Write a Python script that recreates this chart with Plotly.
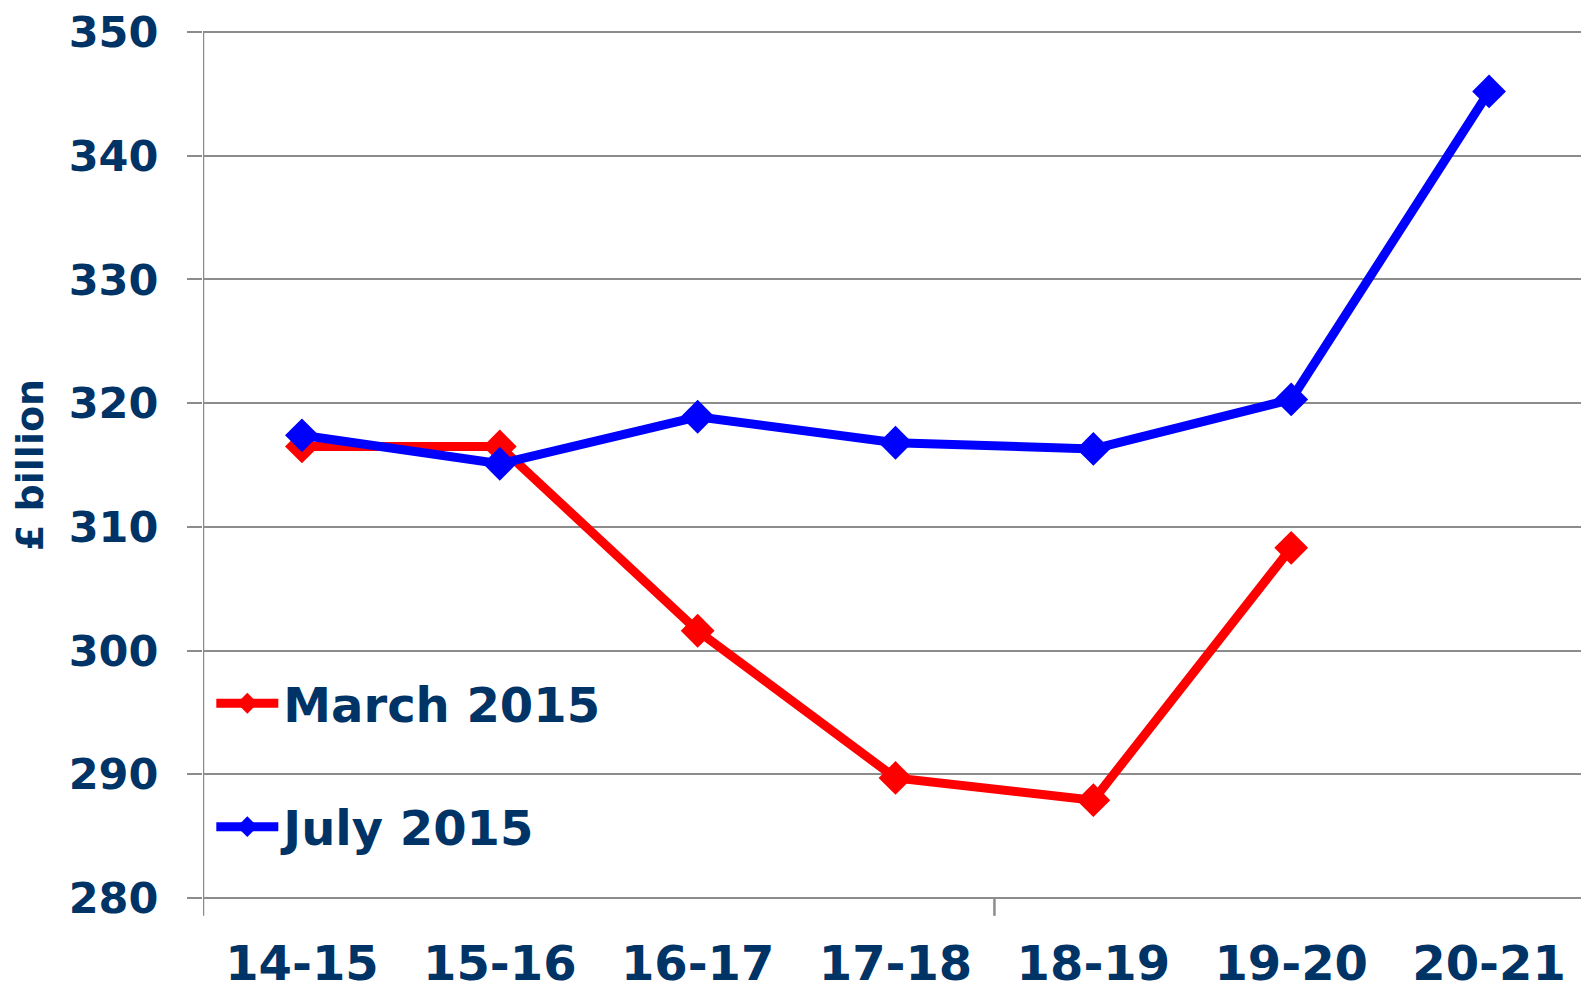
import plotly.graph_objects as go

categories = ["14-15", "15-16", "16-17", "17-18", "18-19", "19-20", "20-21"]
march_2015 = [316.5, 316.5, 301.6, 289.7, 287.9, 308.3, None]
july_2015 = [317.4, 315.1, 318.9, 316.8, 316.3, 320.3, 345.2]
y_ticks = [280, 290, 300, 310, 320, 330, 340, 350]

NAVY = "#003366"
GRID = "#8c8c8c"
FONT = "DejaVu Sans"

fig = go.Figure()
fig.add_trace(go.Scatter(
    x=categories, y=march_2015, name="March 2015", mode="lines+markers",
    line=dict(color="#ff0000", width=9),
    marker=dict(symbol="diamond", size=26, color="#ff0000"),
    legendgroup="m",
))
fig.add_trace(go.Scatter(
    x=categories, y=july_2015, name="July 2015", mode="lines+markers",
    line=dict(color="#0000ff", width=9),
    marker=dict(symbol="diamond", size=26, color="#0000ff"),
    legendgroup="j",
))

# Excel-style stray tick marks below the category axis
for xv in [-0.5, 3.5]:
    fig.add_shape(type="line", xref="x", yref="paper", x0=xv, x1=xv,
                  y0=0.0035, y1=-0.017, line=dict(color=GRID, width=2.5))

fig.update_layout(
    width=1581, height=983,
    margin=dict(l=195, r=1, t=21, b=90),
    plot_bgcolor="white", paper_bgcolor="white",
    font=dict(family=FONT, color=NAVY),
    showlegend=True,
    legend=dict(
        x=0.006, y=0.27, xanchor="left", yanchor="top",
        font=dict(size=48, color=NAVY, family=FONT, weight="bold"),
        bgcolor="rgba(0,0,0,0)", traceorder="grouped", tracegroupgap=58,
        itemwidth=62,
    ),
    xaxis=dict(
        type="category", range=[-0.5, 6.5],
        showgrid=False, showline=False, zeroline=False, automargin=False,
        ticks="", tickfont=dict(size=48, color=NAVY, family=FONT, weight="bold"),
        ticklabelstandoff=30, ticklabeloverflow="allow",
    ),
    yaxis=dict(
        range=[279.75, 350.25], tickvals=y_ticks,
        showgrid=True, gridcolor=GRID, gridwidth=2,
        showline=False, automargin=False,
        ticks="outside", ticklen=15, tickcolor=GRID, tickwidth=2,
        zeroline=False, ticklabelstandoff=20, ticklabeloverflow="allow",
        tickfont=dict(size=43, color=NAVY, family=FONT, weight="bold"),
        title=dict(text="£ billion", font=dict(size=38, color=NAVY, family=FONT, weight="bold"), standoff=24),
    ),
)

# vertical axis line spanning from the top gridline to the bottom one
fig.add_shape(type="line", xref="x", yref="y", x0=-0.5, x1=-0.5,
              y0=280, y1=350, line=dict(color=GRID, width=2.5))

fig.write_html("out.html")
